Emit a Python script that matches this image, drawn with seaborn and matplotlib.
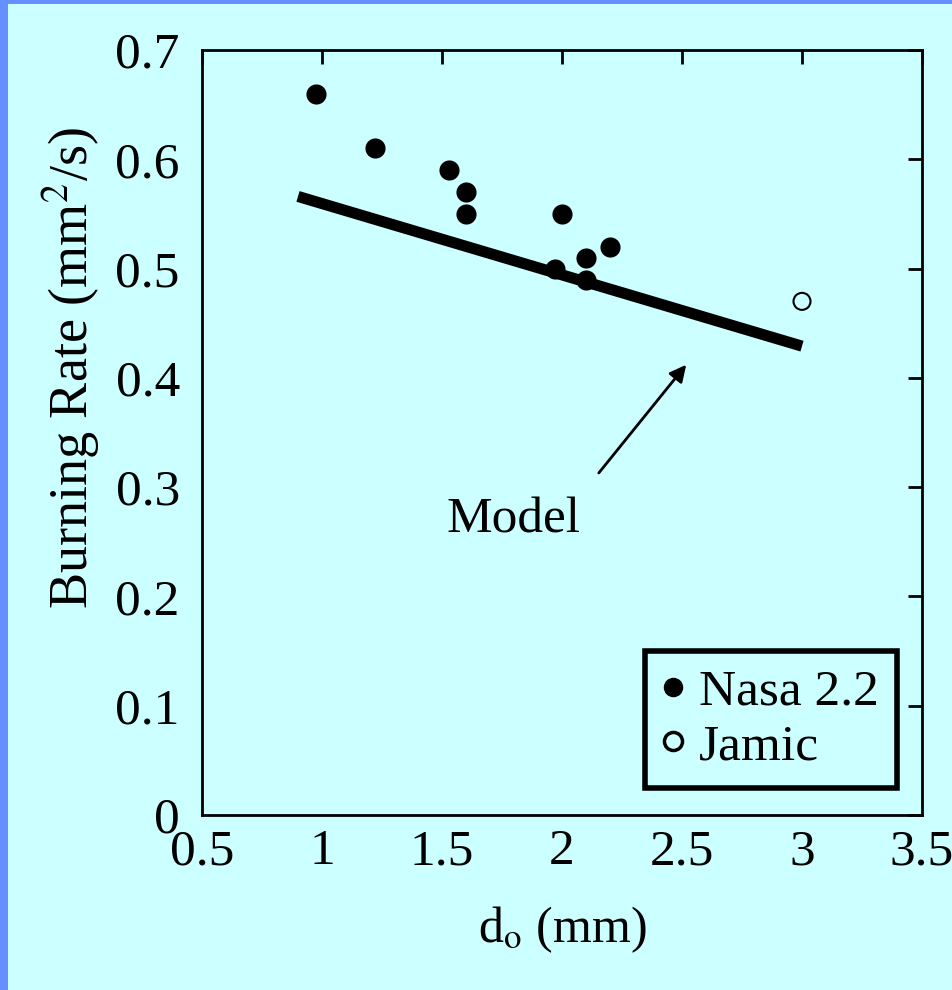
import matplotlib
matplotlib.use("Agg")
import matplotlib.pyplot as plt
import seaborn as sns
import pandas as pd
from matplotlib.lines import Line2D
from matplotlib.patches import Rectangle

# ---- data ----
nasa_d = [0.975, 1.22, 1.53, 1.60, 1.60, 2.00, 1.97, 2.10, 2.10, 2.20]
nasa_rate = [0.66, 0.61, 0.59, 0.57, 0.55, 0.55, 0.50, 0.51, 0.49, 0.52]
jamic_d = [3.0]
jamic_rate = [0.47]
model_d = [0.9, 3.0]
model_rate = [0.566, 0.429]
x_ticks = [0.5, 1, 1.5, 2, 2.5, 3, 3.5]
x_labels = ["0.5", "1", "1.5", "2", "2.5", "3", "3.5"]
y_ticks = [0, 0.1, 0.2, 0.3, 0.4, 0.5, 0.6, 0.7]
y_labels = ["0", "0.1", "0.2", "0.3", "0.4", "0.5", "0.6", "0.7"]

BG = "#CCFFFF"
BORDER = "#6690FF"

sns.set_theme(style="white")
plt.rcParams["font.family"] = ["Liberation Serif", "DejaVu Serif"]
plt.rcParams["mathtext.fontset"] = "stix"
plt.rcParams["text.color"] = "black"

fig = plt.figure(figsize=(9.52, 9.90), dpi=100, facecolor=BG)
# blue frame strips (left and top)
fig.patches.append(Rectangle((0, 0), 8 / 952, 1, transform=fig.transFigure,
                             facecolor=BORDER, edgecolor="none", zorder=0))
fig.patches.append(Rectangle((0, 1 - 4 / 990), 1, 4 / 990, transform=fig.transFigure,
                             facecolor=BORDER, edgecolor="none", zorder=0))

ax = fig.add_axes([202 / 952, 1 - 815 / 990, 720 / 952, 765 / 990])
ax.set_facecolor(BG)

df_n = pd.DataFrame({"d": nasa_d, "rate": nasa_rate})
df_j = pd.DataFrame({"d": jamic_d, "rate": jamic_rate})
df_m = pd.DataFrame({"d": model_d, "rate": model_rate})

sns.lineplot(data=df_m, x="d", y="rate", ax=ax, color="black", linewidth=8,
             solid_capstyle="butt", legend=False)
sns.scatterplot(data=df_n, x="d", y="rate", ax=ax, color="black", s=210,
                edgecolor="black", linewidth=0, legend=False, zorder=3)
sns.scatterplot(data=df_j, x="d", y="rate", ax=ax, facecolor="none", s=150,
                edgecolor="black", linewidth=1.5, legend=False, zorder=3)

ax.set_xlim(0.5, 3.5)
ax.set_ylim(0, 0.7)
ax.set_xticks(x_ticks)
ax.set_xticklabels(x_labels)
ax.set_yticks(y_ticks)
ax.set_yticklabels(y_labels)
ax.tick_params(direction="in", length=10, width=2, top=True, right=True,
               labelsize=37, colors="black")
ax.tick_params(axis="y", pad=16)
ax.tick_params(axis="x", pad=10)
for sp in ax.spines.values():
    sp.set_visible(True)
    sp.set_color("black")
    sp.set_linewidth(2)

ax.set_xlabel("d$_{\\mathrm{o}}$ (mm)", fontsize=36, color="black")
ax.set_ylabel("Burning Rate (mm$^{2}$/s)", fontsize=39, color="black")
ax.xaxis.set_label_coords(0.5, -0.117)
ax.yaxis.set_label_coords(-0.138, 0.584)

ax.annotate("", xy=(2.525, 0.414), xytext=(2.146, 0.311),
            arrowprops=dict(arrowstyle="-|>", color="black", lw=2, mutation_scale=25))
ax.text(1.80, 0.27, "Model", fontsize=37, ha="center", va="center", color="black")

handles = [
    Line2D([], [], marker="o", linestyle="none", markerfacecolor="black",
           markeredgecolor="black", markersize=13),
    Line2D([], [], marker="o", linestyle="none", markerfacecolor="none",
           markeredgecolor="black", markeredgewidth=2.5, markersize=13),
]
leg = ax.legend(handles, ["Nasa 2.2", "Jamic"], loc="lower right",
                bbox_to_anchor=(0.965, 0.035), fontsize=37, frameon=True,
                fancybox=False, handlelength=0.4, handletextpad=0.3,
                borderpad=0.35, labelspacing=0.15, borderaxespad=0)
leg.get_frame().set_edgecolor("black")
leg.get_frame().set_linewidth(4)
leg.get_frame().set_facecolor(BG)
leg.get_frame().set_alpha(1)
for t in leg.get_texts():
    t.set_color("black")

fig.savefig("out.png", dpi=100, facecolor=BG)
